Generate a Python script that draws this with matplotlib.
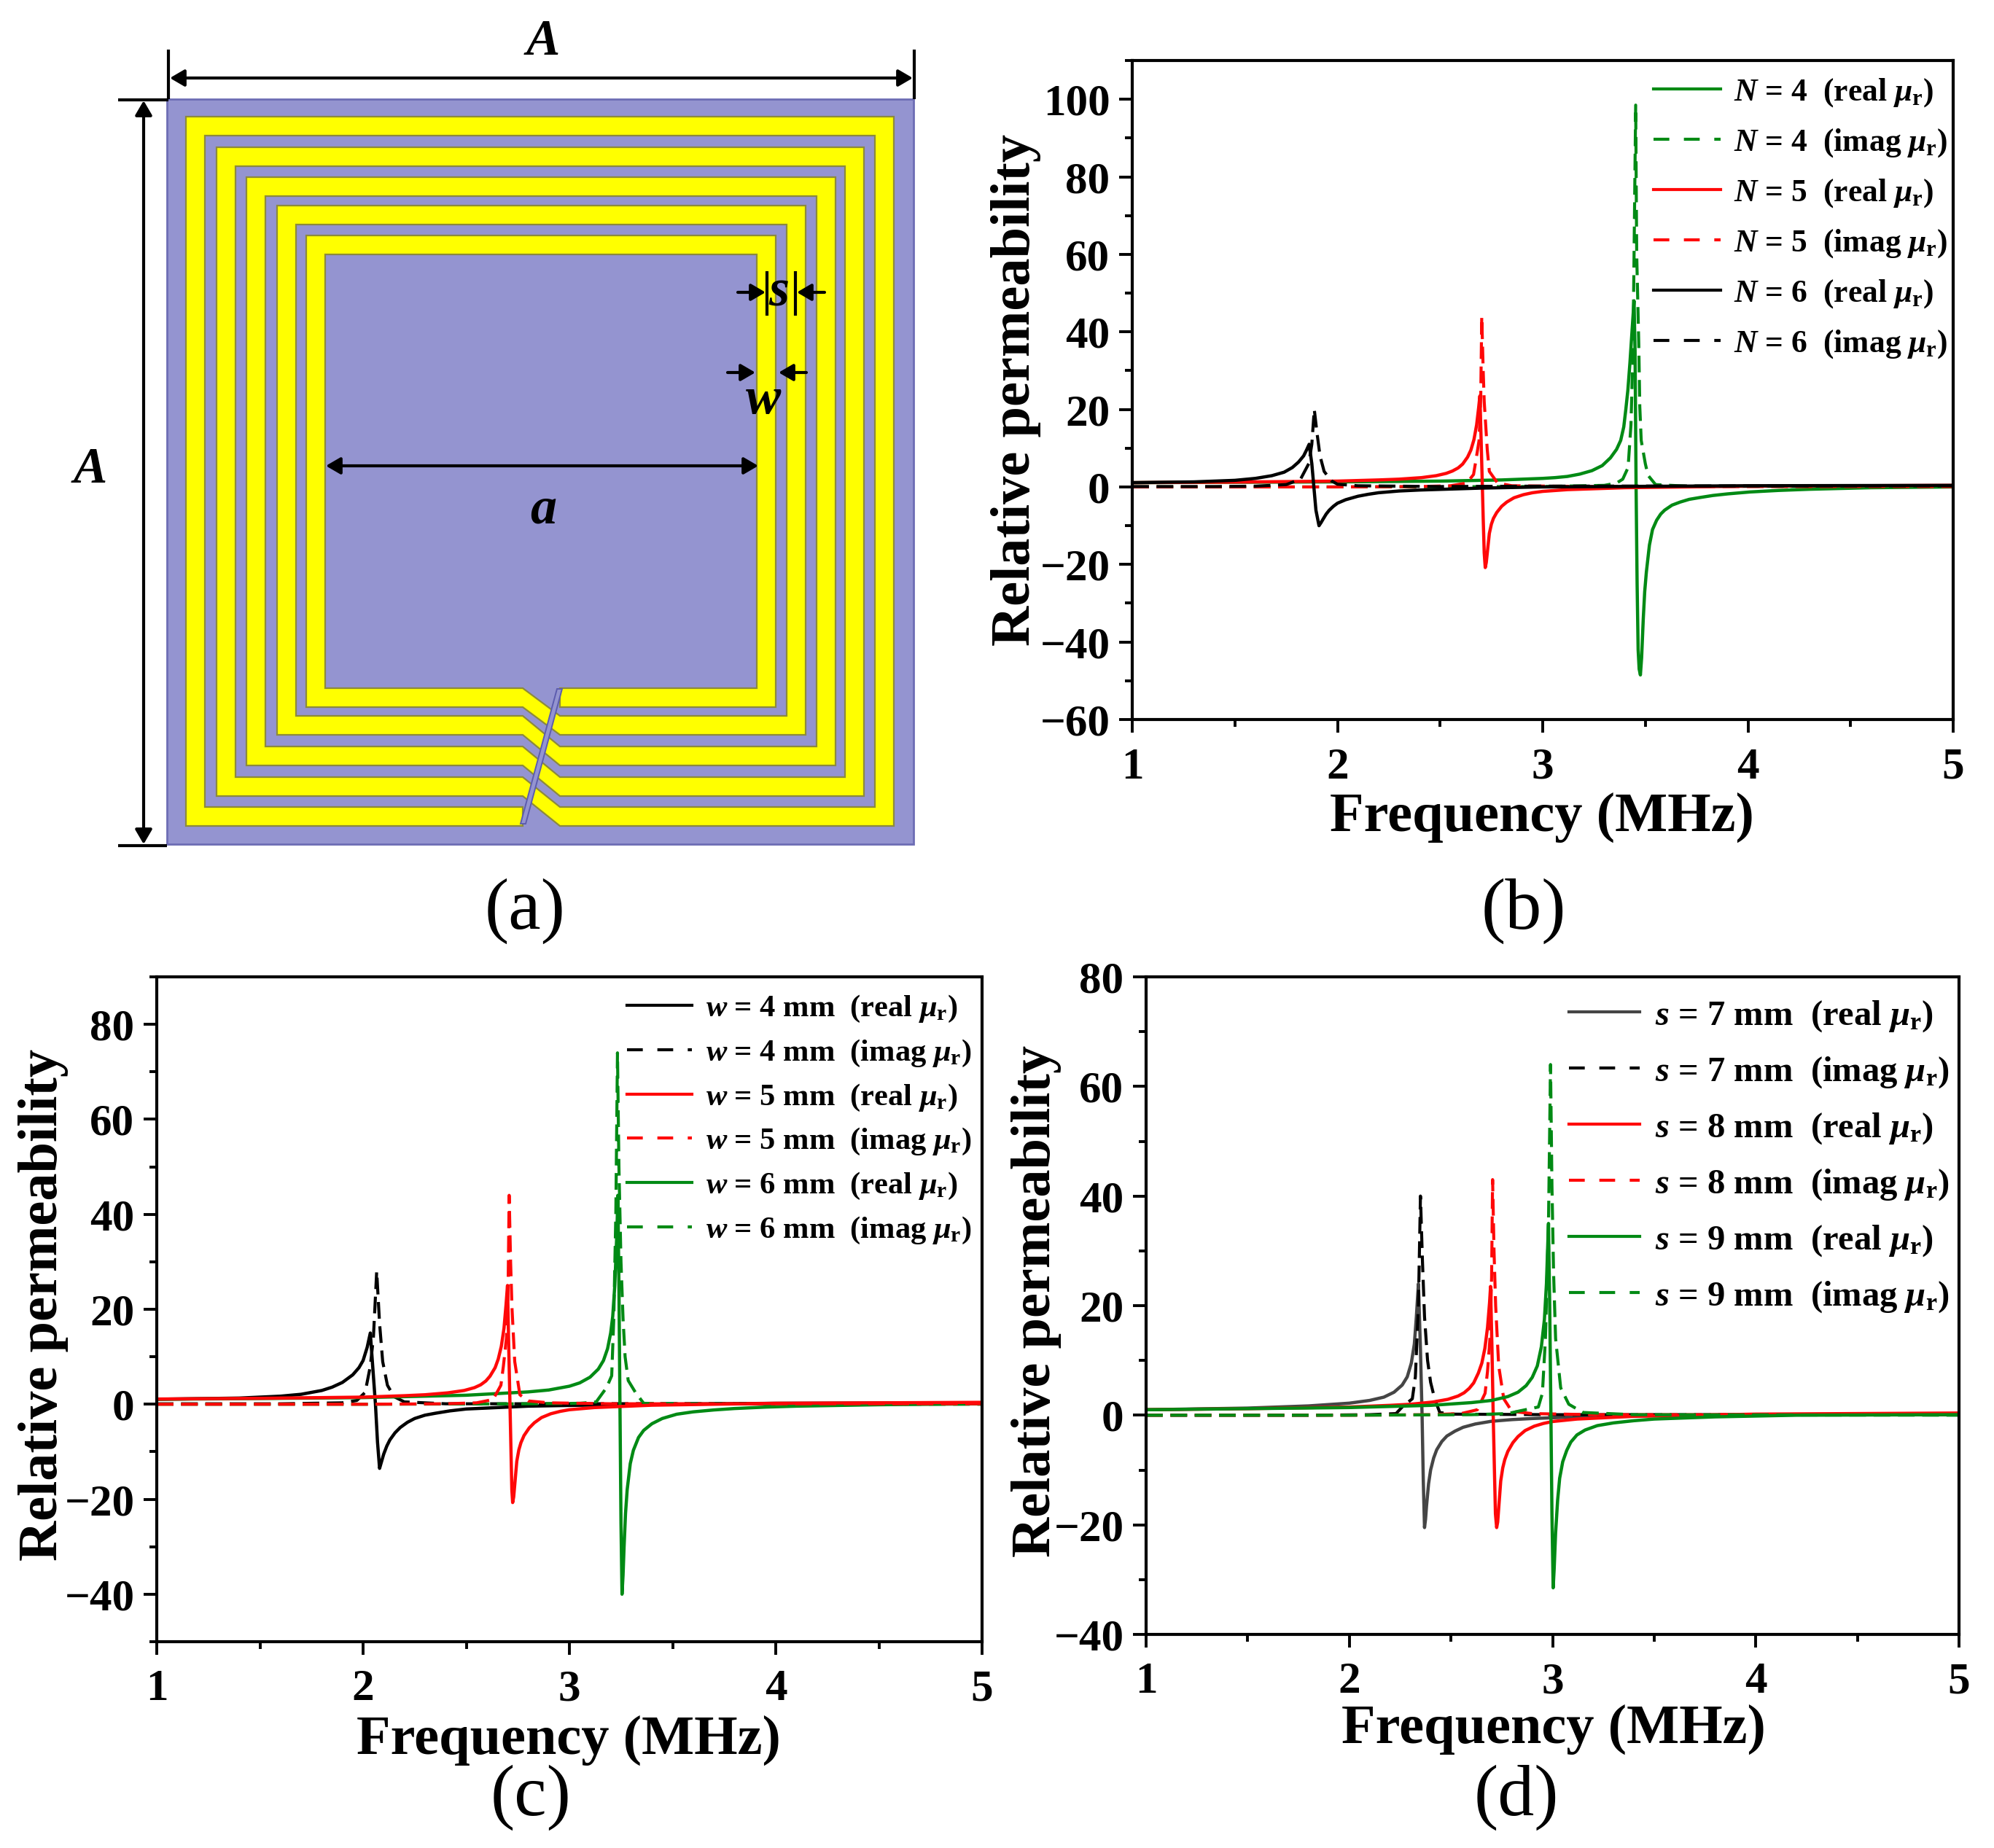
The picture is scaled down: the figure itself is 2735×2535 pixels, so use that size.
import matplotlib
matplotlib.use("Agg")
import matplotlib.pyplot as plt
from matplotlib.lines import Line2D
from matplotlib.patches import Polygon, Rectangle, FancyArrowPatch
from matplotlib.transforms import Affine2D

W, H = 2735, 2535
plt.rcParams.update({
    "font.family": ["Liberation Serif", "DejaVu Serif"],
    "font.weight": "bold",
    "axes.labelweight": "bold",
    "mathtext.fontset": "custom",
    "mathtext.rm": "Liberation Serif:bold",
    "mathtext.it": "Liberation Serif:italic:bold",
    "mathtext.bf": "Liberation Serif:bold",
})

# ---------- data: panel (b) ----------
b4_real_x = [1,1.5,2,2.5,2.8,3,3.06,3.12,3.18,3.24,3.29,3.33,3.36,3.38,3.395,3.405,3.415,3.425,3.435,3.445,3.45,3.455,3.46,3.465,3.47,3.476,3.482,3.49,3.497,3.505,3.52,3.535,3.555,3.575,3.594,3.63,3.67,3.714,3.77,3.83,3.9,4.01,4.15,4.3,4.6,5]
b4_real_y = [1.1,1.2,1.3,1.5,1.8,2.2,2.4,2.7,3.3,4.2,5.5,7.5,9.7,12,15.5,20,25,32,40,48,35,0,-25,-42,-47,-48.5,-44,-34,-27,-22,-15,-11,-8.6,-7,-6,-4.7,-3.9,-3.2,-2.7,-2.2,-1.8,-1.3,-0.9,-0.6,-0.2,0]
b4_imag_x = [1,2,3,3.3,3.36,3.39,3.416,3.43,3.44,3.453,3.458,3.468,3.473,3.48,3.5,3.513,3.55,3.7,5]
b4_imag_y = [0,0,0.1,0.4,1,2,5,16,35,98.5,60,37,20.7,12,6,3,0.6,0.2,0.05]
b5_real_x = [1,1.5,2,2.2,2.3,2.41,2.481,2.53,2.56,2.588,2.61,2.634,2.65,2.665,2.678,2.688,2.694,2.70,2.705,2.71,2.715,2.72,2.725,2.73,2.74,2.75,2.76,2.776,2.80,2.825,2.86,2.906,2.95,3,3.12,3.4,4,5]
b5_real_y = [1.1,1.25,1.5,1.8,2.0,2.4,2.9,3.5,4.1,4.9,5.9,7.7,9.5,12.2,16,20.5,23.5,12,2,-8,-17,-20.8,-19.5,-17,-12,-9.6,-8.1,-6.6,-5,-3.9,-2.8,-2,-1.5,-1.15,-0.7,-0.2,0.2,0.4]
b5_imag_x = [1,2,2.4,2.55,2.63,2.663,2.675,2.69,2.698,2.703,2.71,2.715,2.73,2.74,2.78,2.85,3.2,5]
b5_imag_y = [0,0,0.1,0.3,1,3.2,7,12,23,44,30,22,9.5,4,1,0.3,0.1,0.1]
b6_real_x = [1,1.3,1.5,1.6,1.68,1.74,1.78,1.81,1.835,1.85,1.862,1.875,1.885,1.895,1.91,1.92,1.93,1.945,1.96,1.98,2,2.04,2.1,2.15,2.2,2.3,2.4,2.7,3,4,5]
b6_real_y = [1.1,1.3,1.7,2.2,2.9,3.8,5,6.4,8,9.6,11,6,0,-6,-10,-9.2,-8.3,-7,-6,-5,-4.2,-3.3,-2.4,-1.9,-1.5,-1.05,-0.8,-0.3,0,0.3,0.4]
b6_imag_x = [1,1.4,1.6,1.75,1.82,1.86,1.875,1.887,1.9,1.915,1.935,1.97,2.0,2.1,2.5,3,5]
b6_imag_y = [0.1,0.1,0.2,0.6,2,6,11,20,14,8,4,1.6,0.7,0.3,0.1,0.2,0.3]

# ---------- data: panel (c) ----------
c4_real_x = [1,1.4,1.6,1.7,1.8,1.85,1.9,1.95,1.98,2,2.02,2.035,2.05,2.06,2.07,2.08,2.09,2.1,2.115,2.13,2.155,2.18,2.215,2.25,2.3,2.35,2.42,2.5,2.8,3.2,4,5]
c4_real_y = [1.05,1.3,1.7,2.1,2.9,3.6,4.6,6.2,7.7,9.2,12,15,6,0,-8,-13.5,-12,-10.5,-8.8,-7.5,-6,-4.9,-3.8,-3,-2.3,-1.9,-1.4,-1,-0.4,-0.1,0.2,0.3]
c4_imag_x = [1,1.6,1.9,1.97,2.01,2.035,2.05,2.066,2.08,2.095,2.118,2.15,2.2,2.4,3,5]
c4_imag_y = [0.1,0.1,0.3,0.8,2.5,8,14,28,17,9,4,1.6,0.5,0.1,0.1,0.2]
c5_real_x = [1,1.5,2,2.2,2.3,2.41,2.49,2.54,2.57,2.595,2.615,2.64,2.655,2.67,2.683,2.693,2.70,2.706,2.712,2.717,2.721,2.725,2.73,2.735,2.745,2.755,2.765,2.78,2.805,2.83,2.865,2.91,2.955,3,3.12,3.4,4,5]
c5_real_y = [1.1,1.25,1.5,1.8,2.0,2.4,2.9,3.5,4.1,4.9,5.9,7.7,9.5,12.2,16,21,25,12,0,-10,-18,-20.7,-19.5,-17,-12,-9.6,-8.1,-6.6,-5,-3.9,-2.8,-2,-1.5,-1.15,-0.7,-0.2,0.2,0.4]
c5_imag_x = [1,2,2.4,2.55,2.63,2.668,2.68,2.695,2.703,2.708,2.715,2.722,2.735,2.76,2.8,2.9,3.2,5]
c5_imag_y = [0,0,0.1,0.3,1,4,8,14,25,44,30,20,9,2,0.7,0.3,0.1,0.1]
c6_real_x = [1,1.5,2,2.5,2.8,2.9,3,3.05,3.1,3.14,3.165,3.185,3.2,3.21,3.22,3.23,3.235,3.24,3.245,3.25,3.255,3.26,3.265,3.272,3.28,3.295,3.31,3.335,3.36,3.4,3.45,3.52,3.6,3.7,3.8,3.95,4.1,4.5,5]
c6_real_y = [1.05,1.2,1.4,1.9,2.6,3,3.8,4.5,5.7,7.4,9.2,11.7,15,18.5,25,36,44,25,0,-25,-40,-36,-30,-23,-18,-12.5,-9.7,-7,-5.5,-4.1,-3,-2.1,-1.6,-1.2,-0.9,-0.6,-0.4,-0.1,0.1]
c6_imag_x = [1,2,2.8,3.05,3.13,3.18,3.205,3.215,3.225,3.233,3.24,3.25,3.26,3.27,3.285,3.32,3.36,3.5,5]
c6_imag_y = [0,0,0.1,0.2,0.5,3.5,6,18,40,74,50,30,18,10,5,2.5,0.2,0.1,0]

# ---------- data: panel (d) ----------
d7_real_x = [1,1.5,1.8,2,2.1,2.17,2.22,2.26,2.285,2.305,2.32,2.33,2.34,2.35,2.358,2.364,2.37,2.375,2.38,2.39,2.4,2.415,2.43,2.455,2.48,2.52,2.56,2.62,2.7,2.8,2.9,3.2,4,5]
d7_real_y = [1,1.3,1.7,2.2,2.7,3.3,4.2,5.5,7,9.5,13,18,24,12,0,-12,-20.5,-19,-16.5,-12.5,-10,-7.8,-6.3,-4.8,-3.8,-2.9,-2.2,-1.6,-1.1,-0.8,-0.6,-0.2,0.1,0.2]
d7_imag_x = [1,1.8,2.1,2.23,2.26,2.31,2.325,2.34,2.35,2.36,2.37,2.385,2.40,2.42,2.445,2.5,3,5]
d7_imag_y = [0,0,0.1,0.3,1.5,3,7,20,40,28,18,10,6,3,0.5,0.2,0.1,0.1]
d8_real_x = [1,1.5,2,2.2,2.3,2.41,2.485,2.535,2.565,2.59,2.612,2.635,2.652,2.667,2.68,2.69,2.695,2.702,2.708,2.714,2.719,2.725,2.73,2.735,2.745,2.755,2.765,2.78,2.805,2.83,2.865,2.91,2.955,3,3.12,3.4,4,5]
d8_real_y = [1,1.2,1.5,1.8,2.0,2.4,2.9,3.5,4.1,4.9,5.9,7.7,9.5,12.2,16,20.5,23.5,12,0,-10,-18,-20.5,-19.5,-17,-12,-9.6,-8.1,-6.6,-5,-3.9,-2.8,-2,-1.5,-1.15,-0.7,-0.2,0.2,0.4]
d8_imag_x = [1,2,2.4,2.55,2.63,2.668,2.68,2.692,2.70,2.705,2.712,2.72,2.735,2.76,2.8,2.9,3.2,5]
d8_imag_y = [0,0,0.1,0.3,1,4,8,14,25,43,30,20,9,3,0.7,0.3,0.1,0.1]
d9_real_x = [1,1.5,2,2.4,2.6,2.7,2.78,2.83,2.87,2.9,2.925,2.945,2.96,2.97,2.98,2.986,2.992,2.997,3.003,3.008,3.015,3.025,3.035,3.05,3.07,3.09,3.12,3.16,3.22,3.3,3.4,3.5,3.8,4.2,5]
d9_real_y = [1,1.2,1.4,1.8,2.3,2.7,3.4,4.2,5.4,6.9,9,12.5,17.5,24,35,20,0,-18,-31.5,-28,-21.5,-15.5,-11.5,-8.5,-6.4,-4.9,-3.6,-2.7,-1.9,-1.4,-1,-0.7,-0.3,0,0.1]
d9_imag_x = [1,2,2.6,2.78,2.84,2.93,2.95,2.965,2.98,2.99,2.997,3.005,3.015,3.04,3.08,3.15,3.4,5]
d9_imag_y = [0,0,0.1,0.3,0.8,1.5,4,14,35,64,42,26,14,5,2,0.5,0.1,0]

b_labels = [r"$N$ = 4  (real $\mu_{\mathrm{r}}$)", r"$N$ = 4  (imag $\mu_{\mathrm{r}}$)",
            r"$N$ = 5  (real $\mu_{\mathrm{r}}$)", r"$N$ = 5  (imag $\mu_{\mathrm{r}}$)",
            r"$N$ = 6  (real $\mu_{\mathrm{r}}$)", r"$N$ = 6  (imag $\mu_{\mathrm{r}}$)"]
c_labels = [r"$w$ = 4 mm  (real $\mu_{\mathrm{r}}$)", r"$w$ = 4 mm  (imag $\mu_{\mathrm{r}}$)",
            r"$w$ = 5 mm  (real $\mu_{\mathrm{r}}$)", r"$w$ = 5 mm  (imag $\mu_{\mathrm{r}}$)",
            r"$w$ = 6 mm  (real $\mu_{\mathrm{r}}$)", r"$w$ = 6 mm  (imag $\mu_{\mathrm{r}}$)"]
d_labels = [r"$s$ = 7 mm  (real $\mu_{\mathrm{r}}$)", r"$s$ = 7 mm  (imag $\mu_{\mathrm{r}}$)",
            r"$s$ = 8 mm  (real $\mu_{\mathrm{r}}$)", r"$s$ = 8 mm  (imag $\mu_{\mathrm{r}}$)",
            r"$s$ = 9 mm  (real $\mu_{\mathrm{r}}$)", r"$s$ = 9 mm  (imag $\mu_{\mathrm{r}}$)"]

GREEN, RED, BLACK, GRAY = "#008a14", "#ff0808", "#000000", "#454545"

fig = plt.figure(figsize=(W / 100, H / 100), dpi=100, facecolor="white")
PX = Affine2D().scale(1 / W, -1 / H).translate(0, 1) + fig.transFigure


def make_axes(L, R, T, B):
    return fig.add_axes([L / W, 1 - B / H, (R - L) / W, (B - T) / H])


def draw_panel(ax, series, labels, ylim, yticks, yminor, xlabel_xy, ylabel_xy,
               leg_xy, leg_fs, leg_space, hlen, hpad):
    """series is given in legend order; its last item field sets the drawing order."""
    handles = []
    for (rx, ry, ix, iy, col_r, col_i, z) in series:
        ax.plot(rx, ry, color=col_r, lw=3.2, solid_joinstyle="round", zorder=z)
        ax.plot(ix, iy, color=col_i, lw=3.0, ls=(0, (5.5, 2.5)), zorder=z)
        handles.append(Line2D([], [], color=col_r, lw=3))
        handles.append(Line2D([], [], color=col_i, lw=3, ls=(0, (5.2, 4.8))))
    ax.set_xlim(1, 5)
    ax.set_ylim(*ylim)
    ax.set_xticks([1, 2, 3, 4, 5])
    ax.set_xticks([1.5, 2.5, 3.5, 4.5], minor=True)
    ax.set_yticks(yticks)
    ax.set_yticks(yminor, minor=True)
    ax.tick_params(which="major", length=13, width=2.8, labelsize=44)
    ax.tick_params(which="minor", length=7, width=2.8)
    ax.tick_params(axis="x", which="major", pad=14)
    ax.tick_params(axis="y", which="major", pad=9)
    for s in ax.spines.values():
        s.set_linewidth(3.0)
    ax.set_xlabel("Frequency (MHz)", fontsize=55, va="center")
    ax.xaxis.set_label_coords(*xlabel_xy, transform=PX)
    ax.set_ylabel("Relative permeability", fontsize=55, va="center")
    ax.yaxis.set_label_coords(*ylabel_xy, transform=PX)
    ax.legend(handles, labels, loc="upper left", bbox_to_anchor=leg_xy,
              bbox_transform=PX, frameon=False, fontsize=leg_fs, borderpad=0,
              borderaxespad=0, labelspacing=leg_space, handlelength=hlen,
              handletextpad=hpad)


# ---------- panel (a): structure diagram ----------
axa = fig.add_axes([0, 0, 1, 1], zorder=-1)
axa.set_xlim(0, W)
axa.set_ylim(H, 0)
axa.axis("off")

PURPLE, YELLOW, OLIVE = "#9494d0", "#ffff00", "#8c8a3c"
SQ_L, SQ_R, SQ_T, SQ_B = 229, 1253, 136, 1158
axa.add_patch(Rectangle((SQ_L, SQ_T), SQ_R - SQ_L, SQ_B - SQ_T, fc=PURPLE, ec="#6d6db4", lw=2))

LEFTS = [255, 297, 338, 380, 420]
RIGHTS = [1226, 1185, 1146, 1105, 1064]
TOPS = [160, 202, 243, 282, 323]
BOTS = [1133, 1092, 1050, 1008, 970]
TW = 26
GAP_L, GAP_R = 717, 768
inner, outer = [], []
for L, R, T, B in zip(LEFTS[::-1], RIGHTS[::-1], TOPS[::-1], BOTS[::-1]):
    inner += [(GAP_R, B - TW), (R - TW, B - TW), (R - TW, T + TW), (L + TW, T + TW), (L + TW, B - TW), (GAP_L, B - TW)]
for L, R, T, B in zip(LEFTS, RIGHTS, TOPS, BOTS):
    outer += [(GAP_L, B), (L, B), (L, T), (R, T), (R, B), (GAP_R, B)]
axa.add_patch(Polygon(inner + outer, closed=True, fc=YELLOW, ec=OLIVE, lw=1.6, joinstyle="miter"))
axa.add_patch(Polygon([(764, 945), (771, 945), (721, 1130), (714, 1130)], closed=True,
                      fc=PURPLE, ec="#5c5cae", lw=1.4))


def arrow(p, q, style="<|-|>"):
    axa.add_patch(FancyArrowPatch(p, q, arrowstyle=f"{style},head_length=12,head_width=7",
                                  mutation_scale=1, color="black", lw=3.0,
                                  shrinkA=0, shrinkB=0, zorder=5))


arrow((233, 107), (1252, 107))
arrow((197, 138), (197, 1158))
arrow((447, 639), (1040, 639))
arrow((1012, 401), (1050, 401), "-|>")
arrow((1131, 401), (1093, 401), "-|>")
arrow((998, 511), (1036, 511), "-|>")
arrow((1106, 511), (1068, 511), "-|>")
for xs, ys in [([231, 231], [68, 136]), ([1254, 1254], [68, 136]), ([162, 231], [137, 137]),
               ([162, 229], [1160, 1160]), ([1052, 1052], [372, 433]), ([1091, 1091], [372, 433])]:
    axa.plot(xs, ys, color="black", lw=3.0, zorder=5, solid_capstyle="butt")

sym = dict(family="Liberation Serif", weight="bold", style="italic", ha="center", va="center", zorder=6)
axa.text(745, 58, "A", fontsize=50, **sym)
axa.text(124, 645, "A", fontsize=50, **sym)
axa.text(745, 700, "a", fontsize=52, **sym)
axa.text(1068, 401, "s", fontsize=52, **sym)
axa.text(1047, 549, "w", fontsize=52, **sym)

cap = dict(family="Liberation Serif", weight="normal", ha="center", va="center", fontsize=72)
axa.text(720, 1250, "(a)", **cap)
axa.text(2090, 1250, "(b)", **cap)
axa.text(728, 2466, "(c)", **cap)
axa.text(2080, 2466, "(d)", **cap)

# ---------- panels (b)-(d) ----------
axb = make_axes(1553, 2679, 83, 987)
draw_panel(axb,
           [(b4_real_x, b4_real_y, b4_imag_x, b4_imag_y, GREEN, GREEN, 2),
            (b5_real_x, b5_real_y, b5_imag_x, b5_imag_y, RED, RED, 2.1),
            (b6_real_x, b6_real_y, b6_imag_x, b6_imag_y, BLACK, BLACK, 2.2)],
           b_labels, (-60, 110), list(range(-60, 101, 20)), list(range(-50, 111, 20)),
           (2115, 1121), (1394, 535), (2268, 105), 31.4, 0.575, 2.1, 0.42)

axc = make_axes(215, 1347, 1340, 2252)
draw_panel(axc,
           [(c4_real_x, c4_real_y, c4_imag_x, c4_imag_y, BLACK, BLACK, 2),
            (c5_real_x, c5_real_y, c5_imag_x, c5_imag_y, RED, RED, 2.2),
            (c6_real_x, c6_real_y, c6_imag_x, c6_imag_y, GREEN, GREEN, 2.1)],
           c_labels,
           (-50, 90), list(range(-40, 81, 20)), list(range(-50, 91, 20)),
           (780, 2387), (60, 1790), (860, 1363), 30.6, 0.44, 2.1, 0.45)

axd = make_axes(1572, 2687, 1340, 2242)
draw_panel(axd,
           [(d7_real_x, d7_real_y, d7_imag_x, d7_imag_y, GRAY, BLACK, 2),
            (d8_real_x, d8_real_y, d8_imag_x, d8_imag_y, RED, RED, 2.1),
            (d9_real_x, d9_real_y, d9_imag_x, d9_imag_y, GREEN, GREEN, 2.2)],
           d_labels, (-40, 80), list(range(-40, 81, 20)), list(range(-30, 71, 20)),
           (2131, 2372), (1421, 1785), (2152, 1370), 35, 0.6, 2.0, 0.42)

fig.savefig("out.png", dpi=100, facecolor="white")
